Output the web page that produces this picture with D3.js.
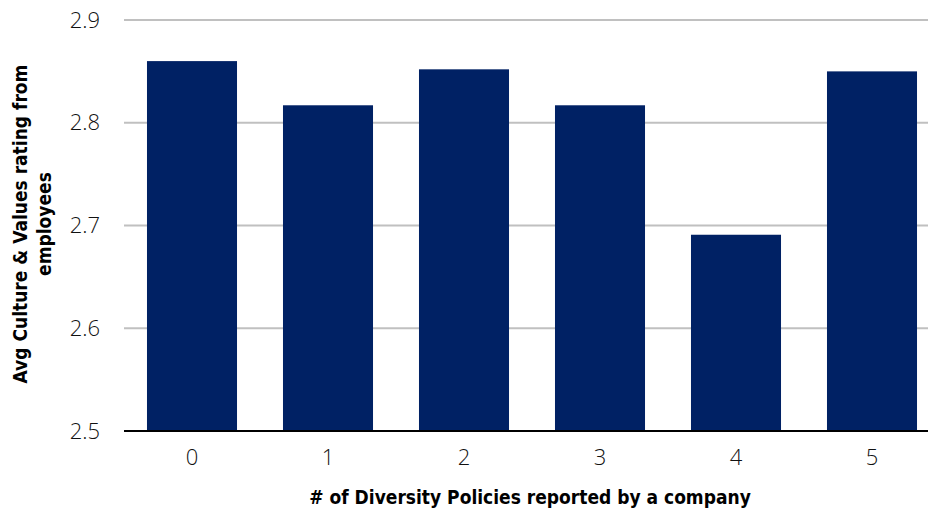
<!DOCTYPE html>
<html>
<head>
<meta charset="utf-8">
<script src="https://cdn.jsdelivr.net/npm/d3@7"></script>
<style>
  body { margin: 0; background: #fff; }
  .tick text { font-family: "Open Sans", "Noto Sans", sans-serif; font-weight: 300; font-size: 22px; fill: #111; }
  .title { font-family: "Liberation Sans Narrow", "DejaVu Sans Condensed", "Roboto Condensed", sans-serif; font-weight: bold; font-size: 19px; fill: #000; }
</style>
</head>
<body>
<svg width="928" height="515"></svg>
<script>
const policies = ['0', '1', '2', '3', '4', '5'];
const ratings = [2.860, 2.817, 2.852, 2.817, 2.691, 2.850];
const yTicks = [2.5, 2.6, 2.7, 2.8, 2.9];

const svg = d3.select('svg');
const margin = { top: 20, left: 124, bottom: 84 };
const height = +svg.attr('height');

const x = d3.scaleBand()
    .domain(policies)
    .range([margin.left, margin.left + 136 * policies.length])
    .paddingInner(0.338)
    .paddingOuter(0.169);

const y = d3.scaleLinear()
    .domain([2.5, 2.9])
    .range([height - margin.bottom, margin.top]);

// gridlines
svg.append('g')
    .selectAll('line')
    .data(yTicks.slice(1))
    .enter()
    .append('line')
    .attr('x1', margin.left)
    .attr('x2', 940)
    .attr('y1', d => y(d))
    .attr('y2', d => y(d))
    .attr('stroke', '#c0c0c0')
    .attr('stroke-width', 2);

// bars
svg.append('g')
    .selectAll('rect')
    .data(ratings)
    .enter()
    .append('rect')
    .attr('x', (d, i) => x(policies[i]))
    .attr('width', x.bandwidth())
    .attr('y', d => y(d))
    .attr('height', d => y(2.5) - y(d))
    .attr('fill', '#002164');

// y axis (labels only)
const yAxis = svg.append('g')
    .attr('transform', `translate(${margin.left},0)`)
    .call(d3.axisLeft(y).tickValues(yTicks).tickFormat(d3.format('.1f')).tickSize(0).tickPadding(24));
yAxis.select('.domain').remove();

// x axis
const xAxis = svg.append('g')
    .attr('transform', `translate(0,${y(2.5)})`)
    .call(d3.axisBottom(x).tickSize(0).tickPadding(18));
xAxis.select('.domain')
    .attr('d', `M${margin.left},0H940`)
    .attr('stroke', '#000')
    .attr('stroke-width', 2);

// axis titles
svg.append('text')
    .attr('class', 'title')
    .attr('x', 530)
    .attr('y', 504)
    .attr('text-anchor', 'middle')
    .text('# of Diversity Policies reported by a company');

const yTitle = svg.append('text')
    .attr('class', 'title')
    .attr('transform', 'translate(0,224) rotate(-90)')
    .attr('text-anchor', 'middle');
yTitle.append('tspan').attr('x', 0).attr('y', 27).text('Avg Culture & Values rating from');
yTitle.append('tspan').attr('x', 0).attr('y', 51).text('employees');
</script>
</body>
</html>
